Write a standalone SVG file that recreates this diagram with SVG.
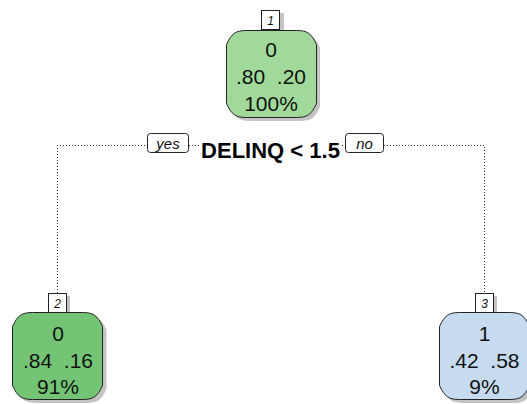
<svg xmlns="http://www.w3.org/2000/svg" width="527" height="404" viewBox="0 0 527 404">
  <style>
    .shadow { fill: #c4c4c4; stroke: none; }
    .node { stroke: #222; stroke-width: 1; }
    .n1 { fill: #a1d99b; }
    .n2 { fill: #74c476; }
    .n3 { fill: #c6dbef; }
    .num { fill: #fff; stroke: #222; stroke-width: 1; }
    .numtxt { font-family: "Liberation Sans", Arial, sans-serif; font-size: 12px; font-style: italic; fill: #111; text-anchor: middle; }
    .val { font-family: "Liberation Sans", Arial, sans-serif; font-size: 21px; fill: #111; text-anchor: middle; }
    .split { font-family: "Liberation Sans", Arial, sans-serif; font-size: 22px; font-weight: bold; fill: #000; text-anchor: middle; }
    .yn { font-family: "Liberation Sans", Arial, sans-serif; font-size: 15px; font-style: italic; fill: #111; text-anchor: middle; }
    .ynbox { fill: #fff; stroke: #222; stroke-width: 1; }
    .dot { fill: none; stroke: #333; stroke-width: 1; stroke-dasharray: 1 2; }
  </style>
  <defs>
    <!-- rounded node body, origin at top-left, 90 x 87 -->
    <path id="body" d="M20,0 H70 C81,0 85,3 90,14 V73 C85,84 81,87 70,87 H20 C9,87 5,84 0,73 V14 C5,3 9,0 20,0 Z"/>
  </defs>

  <!-- connectors -->
  <g id="connectors">
    <path class="dot" d="M57.5,293 V145.5 H484.5 V293"/>
  </g>

  <!-- split label -->
  <g id="split">
    <rect x="200" y="137" width="142" height="18" fill="#fff"/>
    <rect class="ynbox" x="147.5" y="133.5" width="41" height="19" rx="3"/>
    <text class="yn" x="168" y="148.5">yes</text>
    <rect class="ynbox" x="345.5" y="133.5" width="38" height="19" rx="3"/>
    <text class="yn" x="364.5" y="148.5">no</text>
    <text class="split" x="270.5" y="158">DELINQ &lt; 1.5</text>
  </g>

  <!-- node 1 -->
  <g id="node1">
    <use href="#body" class="shadow" transform="translate(230,34)"/>
    <use href="#body" class="node n1" transform="translate(226.5,30.5)"/>
    <rect class="shadow" x="265" y="13" width="19" height="17"/>
    <rect class="num" x="261.5" y="10.5" width="18" height="19"/>
    <text class="numtxt" x="270.5" y="25">1</text>
    <text class="val" x="271" y="57">0</text>
    <text class="val" x="271" y="84" xml:space="preserve">.80  .20</text>
    <text class="val" x="271" y="111">100%</text>
  </g>

  <!-- node 2 -->
  <g id="node2">
    <use href="#body" class="shadow" transform="translate(16.5,316)"/>
    <use href="#body" class="node n2" transform="translate(12.5,312.5)"/>
    <rect class="shadow" x="51" y="296" width="19" height="16"/>
    <rect class="num" x="48.5" y="293.5" width="18" height="19"/>
    <text class="numtxt" x="57.5" y="308">2</text>
    <text class="val" x="58" y="341">0</text>
    <text class="val" x="58" y="368" xml:space="preserve">.84  .16</text>
    <text class="val" x="58" y="394">91%</text>
  </g>

  <!-- node 3 -->
  <g id="node3">
    <use href="#body" class="shadow" transform="translate(443,316)"/>
    <use href="#body" class="node n3" transform="translate(439.5,312.5)"/>
    <rect class="shadow" x="478" y="296" width="19" height="16"/>
    <rect class="num" x="475.5" y="293.5" width="18" height="19"/>
    <text class="numtxt" x="484.5" y="308">3</text>
    <text class="val" x="484.5" y="341">1</text>
    <text class="val" x="484.5" y="368" xml:space="preserve">.42  .58</text>
    <text class="val" x="484.5" y="394">9%</text>
  </g>
</svg>
